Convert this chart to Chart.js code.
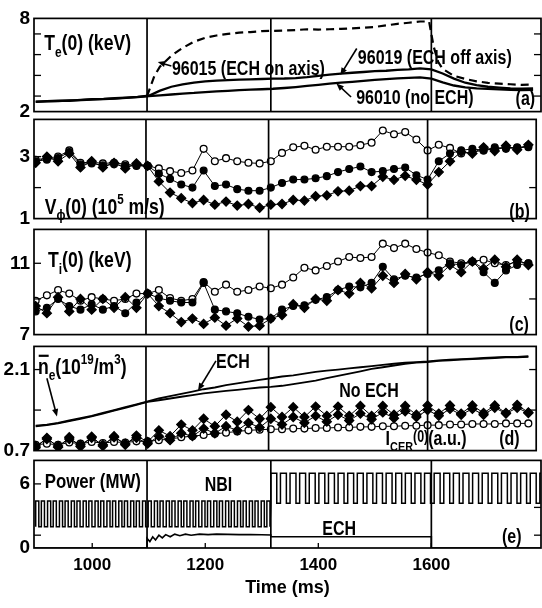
<!DOCTYPE html>
<html>
<head>
<meta charset="utf-8">
<script src="https://cdn.jsdelivr.net/npm/chart.js@4.4.0/dist/chart.umd.min.js"></script>
<style>
  html, body { margin: 0; padding: 0; background: #fff; }
  #fig { position: relative; width: 542px; height: 608px; overflow: hidden; }
  #fig > div { position: absolute; left: 0; width: 542px; }
</style>
</head>
<body>
<div id="fig"></div>
<script>
// ---- data ----
const timeGrid = [900, 920, 940, 960, 980, 1000, 1020, 1040, 1060, 1080, 1100, 1120, 1140, 1160, 1180,
  1200, 1220, 1240, 1260, 1280, 1300, 1320, 1340, 1360, 1380, 1400, 1420, 1440, 1460, 1480,
  1500, 1520, 1540, 1560, 1580, 1600, 1620, 1640, 1660, 1680, 1700, 1720, 1740, 1760, 1780];
const phaseLines = [1097, 1316, 1600];
const timeTicks = [1000, 1200, 1400, 1600];

// (a) Te(0)
const te96010 = [2.62, 2.66, 2.68, 2.72, 2.74, 2.78, 2.8, 2.84, 2.88, 2.93, 3.0,
  3.05, 3.1, 3.16, 3.2, 3.26, 3.3, 3.34, 3.38, 3.41, 3.44,
  3.47, 3.52, 3.58, 3.65, 3.72, 3.8, 3.86, 3.92, 3.98, 4.04,
  4.09, 4.14, 4.17, 4.2, 4.12, 3.88, 3.68, 3.56, 3.5, 3.46,
  3.43, 3.4, 3.38, 3.4];
const te96019 = [2.64, 2.68, 2.7, 2.7, 2.76, 2.8, 2.82, 2.86, 2.9, 2.95, 3.02,
  3.35, 3.6, 3.75, 3.87, 3.95, 4.0, 4.03, 4.06, 4.08, 4.1,
  4.12, 4.13, 4.16, 4.22, 4.3, 4.38, 4.45, 4.5, 4.55, 4.6,
  4.63, 4.68, 4.72, 4.78, 4.72, 4.45, 4.12, 3.86, 3.7, 3.6,
  3.55, 3.5, 3.48, 3.5];
const te96015Time = [1097, 1104, 1110, 1120, 1140, 1160, 1180, 1200, 1220, 1240, 1260, 1280, 1300,
  1320, 1340, 1360, 1380, 1400, 1420, 1440, 1460, 1480, 1500, 1520, 1540, 1560, 1580,
  1596, 1604, 1612, 1620, 1640, 1660, 1680, 1700, 1720, 1740, 1760, 1780];
const te96015 = [3.0, 3.7, 4.3, 4.9, 5.6, 6.1, 6.5, 6.75, 6.9, 7.0, 7.08, 7.12, 7.18,
  7.2, 7.22, 7.25, 7.3, 7.28, 7.3, 7.33, 7.36, 7.4, 7.45, 7.55, 7.65, 7.72, 7.8,
  7.8, 6.2, 5.2, 4.75, 4.3, 4.1, 3.95, 3.85, 3.8, 3.76, 3.72, 3.74];

// (b) V_phi(0)
const vOpen = [2.9, 2.95, 3.0, 3.2, 2.8, 2.82, 2.78, 2.8, 2.75, 2.72,
  2.7, 2.62, 2.53, 2.47, 2.55, 3.25, 2.85, 2.95, 2.85, 2.8,
  2.78, 2.85, 3.12, 3.3, 3.35, 3.22, 3.32, 3.32, 3.32, 3.37,
  3.45, 3.84, 3.72, 3.79, 3.55, 3.2, 3.38, 3.28, 3.1, 3.15,
  3.2, 3.25, 3.3, 3.28, 3.35];
const vFilled = [2.85, 2.9, 2.95, 3.15, 2.75, 2.78, 2.72, 2.75, 2.7, 2.7,
  2.7, 2.45, 2.28, 2.1, 2.0, 2.55, 2.05, 2.1, 1.95, 1.9,
  1.9, 2.0, 2.15, 2.26, 2.26, 2.3, 2.37, 2.5, 2.6, 2.68,
  2.5, 2.53, 2.6, 2.65, 2.4, 2.26, 2.85, 3.1, 3.2, 3.25,
  3.2, 3.3, 3.25, 3.3, 3.3];
const vDiamond = [2.8, 3.0, 2.85, 3.1, 2.65, 2.85, 2.65, 2.8, 2.62, 2.78,
  2.7, 2.2, 1.84, 1.66, 1.5, 1.6, 1.45, 1.55, 1.42, 1.47,
  1.35, 1.45, 1.47, 1.6, 1.58, 1.72, 1.75, 1.88, 1.9, 2.05,
  2.05, 2.35, 2.25, 2.38, 2.25, 2.1, 2.5, 2.85, 3.15, 3.1,
  3.3, 3.18, 3.35, 3.22, 3.38];

// (c) Ti(0)
const tiOpen = [8.9, 9.2, 9.5, 9.3, 8.9, 9.1, 9.0, 8.9, 9.0, 9.3,
  9.3, 9.5, 9.05, 8.9, 9.0, 9.95, 9.4, 9.8, 9.4, 9.5,
  9.7, 9.6, 9.8, 10.2, 10.75, 10.6, 10.85, 11.1, 11.35, 11.3,
  11.35, 12.1, 11.85, 12.1, 11.8, 11.6, 11.45, 11.1, 11.0, 11.1,
  11.2, 11.0, 10.9, 11.1, 11.0];
const tiFilled = [8.3, 8.5, 9.0, 8.6, 8.4, 8.7, 8.4, 8.6, 8.2, 8.8,
  9.3, 9.05, 8.9, 8.8, 8.8, 9.9, 8.4, 8.3, 8.2, 8.0,
  7.85, 7.9, 8.4, 8.6, 8.65, 8.95, 9.1, 9.5, 9.7, 9.65,
  9.9, 10.8, 10.1, 10.3, 10.2, 10.4, 10.6, 11.0, 10.9, 11.1,
  10.5, 9.9, 10.6, 10.9, 11.0];
const tiDiamond = [8.6, 8.2, 9.1, 8.3, 9.0, 8.4, 9.0, 8.5, 9.1, 8.5,
  9.3, 8.6, 8.2, 7.7, 7.9, 7.6, 7.95, 7.5, 7.9, 7.45,
  7.5, 7.9, 8.1, 8.7, 8.5, 9.0, 8.9, 9.5, 9.3, 9.9,
  9.6, 10.3, 9.9, 10.4, 10.1, 10.5, 10.3, 10.9, 10.5, 11.1,
  10.7, 11.2, 10.8, 11.2, 10.9];

// (d) line-averaged density and CER intensity
const neECH = [1.13, 1.15, 1.18, 1.22, 1.26, 1.3, 1.35, 1.4, 1.45, 1.5,
  1.55, 1.6, 1.64, 1.68, 1.72, 1.76, 1.79, 1.83, 1.86, 1.89,
  1.92, 1.95, 1.98, 2.0, 2.03, 2.06, 2.08, 2.1, 2.12, 2.14,
  2.16, 2.18, 2.2, 2.22, 2.23, 2.24, 2.26, 2.27, 2.28, 2.29,
  2.3, 2.31, 2.32, 2.32, 2.33];
const neNoECH = [1.12, 1.14, 1.17, 1.21, 1.25, 1.29, 1.34, 1.39, 1.44, 1.49,
  1.54, 1.57, 1.6, 1.63, 1.66, 1.69, 1.71, 1.73, 1.75, 1.77,
  1.79, 1.8, 1.82, 1.85, 1.88, 1.91, 1.95, 1.99, 2.03, 2.07,
  2.11, 2.14, 2.17, 2.2, 2.22, 2.23, 2.25, 2.26, 2.27, 2.28,
  2.29, 2.3, 2.31, 2.31, 2.32];
const cerUpper = [0.75, 0.92, 0.76, 0.93, 0.77, 0.94, 0.78, 0.95, 0.8, 0.96,
  0.85, 1.05, 0.95, 1.15, 1.05, 1.25, 1.12, 1.32, 1.2, 1.4,
  1.25, 1.45, 1.28, 1.45, 1.28, 1.46, 1.3, 1.46, 1.3, 1.47,
  1.3, 1.47, 1.32, 1.47, 1.32, 1.48, 1.34, 1.48, 1.34, 1.48,
  1.35, 1.48, 1.35, 1.49, 1.36];
const cerLower = [0.78, 0.9, 0.78, 0.9, 0.8, 0.92, 0.8, 0.93, 0.82, 0.92,
  0.82, 0.95, 0.88, 1.0, 0.95, 1.08, 1.0, 1.12, 1.05, 1.18,
  1.1, 1.25, 1.15, 1.28, 1.18, 1.3, 1.2, 1.32, 1.22, 1.34,
  1.24, 1.36, 1.26, 1.38, 1.28, 1.4, 1.3, 1.42, 1.32, 1.42,
  1.32, 1.44, 1.34, 1.44, 1.35];
const cerOpen = [0.8, 0.82, 0.8, 0.84, 0.82, 0.85, 0.83, 0.85, 0.84, 0.86,
  0.86, 0.88, 0.9, 0.93, 0.95, 0.97, 0.99, 1.01, 1.03, 1.05,
  1.06, 1.07, 1.07, 1.08, 1.08, 1.09, 1.09, 1.1, 1.1, 1.11,
  1.11, 1.12, 1.12, 1.13, 1.13, 1.14, 1.14, 1.15, 1.15, 1.16,
  1.16, 1.16, 1.17, 1.17, 1.17];

// (e) power: modulated NBI pulses and ECH trace
const nbiEarlyStarts = [900, 910, 921, 931, 942, 952, 963, 973, 984, 994, 1005, 1015, 1026, 1036,
  1047, 1057, 1068, 1078, 1089, 1099, 1110, 1120, 1131, 1141, 1152, 1162, 1173, 1183, 1194,
  1204, 1215, 1225, 1236, 1246, 1257, 1267, 1278, 1288, 1299, 1309];
const nbiEarlyWidth = 5.5;
const nbiEarlyLevels = [2.0, 4.4];
const nbiLateStarts = [1316, 1333, 1350, 1367, 1384, 1401, 1418, 1435, 1452, 1469, 1486, 1503,
  1520, 1537, 1554, 1571, 1588, 1605, 1622, 1639, 1656, 1673, 1690, 1707, 1724, 1741, 1758,
  1775, 1792];
const nbiLateWidth = 10.5;
const nbiLateLevels = [4.2, 7.0];
const echTime = [897, 1097, 1097, 1102, 1107, 1112, 1118, 1124, 1130, 1138, 1146, 1155, 1165,
  1175, 1190, 1205, 1220, 1240, 1260, 1280, 1300, 1316, 1316, 1500, 1600, 1600, 1794];
const echPower = [0, 0, 0.9, 0.6, 1.05, 0.75, 1.2, 0.95, 1.25, 1.05, 1.3, 1.15, 1.3,
  1.2, 1.3, 1.25, 1.3, 1.28, 1.25, 1.27, 1.24, 1.22, 1.05, 1.05, 1.05, 0, 0];

// ---- drawing ----
const FONT = "'Liberation Sans', Arial, Helvetica, sans-serif";
const SQUEEZE = 0.8;   // condensed look for the annotations
Chart.defaults.font.family = FONT;
Chart.defaults.font.weight = 'bold';
Chart.defaults.color = '#000';

const T_MIN = 897, T_MAX = 1794;

const pts = (ts, vs) => ts.map((t, i) => ({ x: t, y: vs[i] }));

function squareWave(starts, width, levels) {
  const out = [];
  starts.forEach((s) => {
    out.push({ x: s, y: levels[0] }, { x: s, y: levels[1] },
             { x: s + width, y: levels[1] }, { x: s + width, y: levels[0] });
  });
  return out;
}

const lineSet = (data, extra) => Object.assign({
  data, borderColor: '#000', borderWidth: 2, pointRadius: 0, fill: false, tension: 0
}, extra || {});

const markSet = (data, kind) => ({
  data,
  borderColor: '#000',
  borderWidth: 1,
  pointRadius: kind === 'diamond' ? 4.5 : 3.4,
  pointStyle: kind === 'diamond' ? 'rectRot' : 'circle',
  pointBackgroundColor: kind === 'open' ? '#fff' : '#000',
  pointBorderColor: '#000',
  pointBorderWidth: 1.3,
  order: kind === 'diamond' ? 0 : (kind === 'filled' ? 1 : 2),
  fill: false,
  tension: 0
});

function drawRich(ctx, x, y, parts, size) {
  ctx.save();
  ctx.translate(x, y);
  ctx.scale(SQUEEZE, 1);
  let cx = 0;
  parts.forEach(([txt, kind]) => {
    let s = size, dy = 0;
    if (kind === 'sub') { s = size * 0.68; dy = size * 0.3; }
    if (kind === 'sup') { s = size * 0.66; dy = -size * 0.42; }
    if (kind === 'small') { s = size * 0.78; dy = -size * 0.12; }
    ctx.font = `bold ${s}px ${FONT}`;
    ctx.fillText(txt, cx, dy);
    const w = ctx.measureText(txt).width;
    if (kind === 'bar') ctx.fillRect(cx + 1, -size * 0.86, w - 1, size * 0.1);
    cx += w;
  });
  ctx.restore();
}

function drawArrow(ctx, x1, y1, x2, y2) {
  const ang = Math.atan2(y2 - y1, x2 - x1);
  ctx.beginPath();
  ctx.moveTo(x1, y1);
  ctx.lineTo(x2 - Math.cos(ang) * 4, y2 - Math.sin(ang) * 4);
  ctx.lineWidth = 1.6;
  ctx.stroke();
  ctx.beginPath();
  ctx.moveTo(x2, y2);
  ctx.lineTo(x2 - 8 * Math.cos(ang - 0.4), y2 - 8 * Math.sin(ang - 0.4));
  ctx.lineTo(x2 - 8 * Math.cos(ang + 0.4), y2 - 8 * Math.sin(ang + 0.4));
  ctx.closePath();
  ctx.fill();
}

const framePlugin = {
  id: 'frame',
  afterDatasetsDraw(chart, args, opts) {
    const { ctx, chartArea: a, scales: { x, y } } = chart;
    ctx.save();
    ctx.strokeStyle = '#000';
    ctx.fillStyle = '#000';
    ctx.lineWidth = 1.7;
    ctx.strokeRect(a.left, a.top, a.right - a.left, a.bottom - a.top);
    phaseLines.forEach((t) => {
      const px = x.getPixelForValue(t);
      ctx.beginPath();
      ctx.moveTo(px, a.top);
      ctx.lineTo(px, a.bottom);
      ctx.stroke();
    });
    ctx.lineWidth = 1.3;
    (opts.leftTicks || []).forEach((v) => {
      const py = y.getPixelForValue(v);
      ctx.beginPath(); ctx.moveTo(a.left, py); ctx.lineTo(a.left + 7, py); ctx.stroke();
    });
    (opts.rightTicks || []).forEach((v) => {
      const py = y.getPixelForValue(v);
      ctx.beginPath(); ctx.moveTo(a.right - 7, py); ctx.lineTo(a.right, py); ctx.stroke();
    });
    (opts.bottomTicks || []).forEach((t) => {
      const px = x.getPixelForValue(t);
      ctx.beginPath(); ctx.moveTo(px, a.bottom); ctx.lineTo(px, a.bottom - 5); ctx.stroke();
    });
    ctx.textAlign = 'left';
    ctx.textBaseline = 'alphabetic';
    (opts.notes || []).forEach((n) => {
      drawRich(ctx, x.getPixelForValue(n.t), y.getPixelForValue(n.v), n.parts, n.size || 20);
    });
    (opts.arrows || []).forEach((ar) => {
      drawArrow(ctx, x.getPixelForValue(ar.from[0]), y.getPixelForValue(ar.from[1]),
                x.getPixelForValue(ar.to[0]), y.getPixelForValue(ar.to[1]));
    });
    ctx.restore();
  }
};

const fig = document.getElementById('fig');

function makePanel(p) {
  const padTop = 14;
  const padBot = p.timeAxis ? 0 : 14;
  const axisH = p.timeAxis ? 58 : 0;
  const div = document.createElement('div');
  div.style.top = (p.top - padTop) + 'px';
  div.style.height = (padTop + (p.bottom - p.top) + padBot + axisH) + 'px';
  const canvas = document.createElement('canvas');
  div.appendChild(canvas);
  fig.appendChild(div);

  new Chart(canvas, {
    type: 'line',
    data: { datasets: p.datasets },
    options: {
      responsive: true,
      maintainAspectRatio: false,
      animation: false,
      events: [],
      layout: { padding: { top: padTop, bottom: padBot, left: 0, right: 1 } },
      plugins: {
        legend: { display: false },
        tooltip: { enabled: false },
        frame: p.frame
      },
      scales: {
        x: {
          type: 'linear',
          min: T_MIN,
          max: T_MAX,
          display: !!p.timeAxis,
          afterFit: (s) => { s.height = axisH; },
          afterBuildTicks: (s) => { s.ticks = timeTicks.map((v) => ({ value: v })); },
          grid: { display: false, drawTicks: false },
          border: { display: false },
          ticks: {
            padding: 7,
            font: { size: 17, weight: 'bold' },
            color: '#000',
            callback: (v) => String(v)
          },
          title: {
            display: true,
            text: 'Time (ms)',
            color: '#000',
            font: { size: 18, weight: 'bold' },
            padding: { top: 0, bottom: 7 }
          }
        },
        y: {
          min: p.min,
          max: p.max,
          afterFit: (s) => { s.width = 34; },
          afterBuildTicks: (s) => { s.ticks = p.labels.map((v) => ({ value: v })); },
          grid: { display: false, drawTicks: false },
          border: { display: false },
          ticks: {
            padding: 4,
            font: { size: 19, weight: 'bold' },
            color: '#000',
            callback: (v) => String(v)
          }
        }
      }
    },
    plugins: [framePlugin]
  });
}

// (a)
makePanel({
  top: 17, bottom: 113, min: 2, max: 8, labels: [2, 8],
  datasets: [
    lineSet(pts(te96015Time, te96015), { borderDash: [8, 5], borderWidth: 2.2 }),
    lineSet(pts(timeGrid, te96019), { borderWidth: 2.3 }),
    lineSet(pts(timeGrid, te96010), { borderWidth: 2.3 })
  ],
  frame: {
    leftTicks: [3, 4.33, 5.67, 7], rightTicks: [3, 4.33, 5.67, 7],
    notes: [
      { t: 915, v: 5.94, size: 22, parts: [['T'], ['e', 'sub'], ['(0) (keV)']] },
      { t: 1141, v: 4.37, parts: [['96015 (ECH on axis)']] },
      { t: 1470, v: 5.05, parts: [['96019 (ECH off axis)']] },
      { t: 1467, v: 2.5, parts: [['96010 (no ECH)']] },
      { t: 1749, v: 2.44, parts: [['(a)']] }
    ],
    arrows: [
      { from: [1140, 4.94], to: [1116, 5.19] },
      { from: [1468, 6.06], to: [1439, 4.35] },
      { from: [1458, 2.94], to: [1432, 3.81] }
    ]
  }
});

// (b)
makePanel({
  top: 118, bottom: 220, min: 1, max: 4.2, labels: [1, 3],
  datasets: [
    markSet(pts(timeGrid, vDiamond), 'diamond'),
    markSet(pts(timeGrid, vFilled), 'filled'),
    markSet(pts(timeGrid, vOpen), 'open')
  ],
  frame: {
    leftTicks: [2, 3], rightTicks: [2],
    notes: [
      { t: 916, v: 1.16, size: 22, parts: [['V'], ['ϕ', 'sub'], ['(0) (10'], ['5', 'sup'], [' m/s)']] },
      { t: 1746, v: 1.03, parts: [['(b)']] }
    ]
  }
});

// (c)
makePanel({
  top: 228, bottom: 336, min: 7, max: 12.9, labels: [7, 11],
  datasets: [
    markSet(pts(timeGrid, tiDiamond), 'diamond'),
    markSet(pts(timeGrid, tiFilled), 'filled'),
    markSet(pts(timeGrid, tiOpen), 'open')
  ],
  frame: {
    leftTicks: [9, 11], rightTicks: [9],
    notes: [
      { t: 922, v: 10.77, size: 22, parts: [['T'], ['i', 'sub'], ['(0) (keV)']] },
      { t: 1746, v: 7.22, parts: [['(c)']] }
    ]
  }
});

// (d)
makePanel({
  top: 345, bottom: 452, min: 0.7, max: 2.5, labels: [0.7, 2.1],
  datasets: [
    lineSet(pts(timeGrid, neECH), { borderWidth: 1.8 }),
    lineSet(pts(timeGrid, neNoECH), { borderWidth: 1.8 }),
    markSet(pts(timeGrid, cerUpper), 'diamond'),
    markSet(pts(timeGrid, cerLower), 'diamond'),
    markSet(pts(timeGrid, cerOpen), 'open')
  ],
  frame: {
    leftTicks: [1.4, 2.1], rightTicks: [1.4, 2.1],
    notes: [
      { t: 904, v: 2.03, size: 22, parts: [['n', 'bar'], ['e', 'sub'], ['(10'], ['19', 'sup'], ['/m'], ['3', 'sup'], [')']] },
      { t: 1222, v: 2.13, parts: [['ECH']] },
      { t: 1442, v: 1.63, parts: [['No ECH']] },
      { t: 1525, v: 0.8, parts: [['I'], ['CER', 'sub'], ['(0)', 'small'], ['(a.u.)']] },
      { t: 1728, v: 0.8, parts: [['(d)']] }
    ],
    arrows: [
      { from: [920, 1.95], to: [938, 1.29] },
      { from: [1222, 2.25], to: [1190, 1.74] }
    ]
  }
});

// (e)
makePanel({
  top: 459, bottom: 548, min: 0, max: 8.2, labels: [0, 6], timeAxis: true,
  datasets: [
    lineSet(squareWave(nbiEarlyStarts, nbiEarlyWidth, nbiEarlyLevels)
      .concat(squareWave(nbiLateStarts, nbiLateWidth, nbiLateLevels)), { borderWidth: 1.5 }),
    lineSet(pts(echTime, echPower), { borderWidth: 1.6 })
  ],
  frame: {
    leftTicks: [1.2, 6], rightTicks: [1.2, 3.8], bottomTicks: timeTicks,
    notes: [
      { t: 916, v: 5.62, size: 21, parts: [['Power (MW)']] },
      { t: 1199, v: 5.35, parts: [['NBI']] },
      { t: 1407, v: 1.2, parts: [['ECH']] },
      { t: 1725, v: 0.46, parts: [['(e)']] }
    ]
  }
});
</script>
</body>
</html>
